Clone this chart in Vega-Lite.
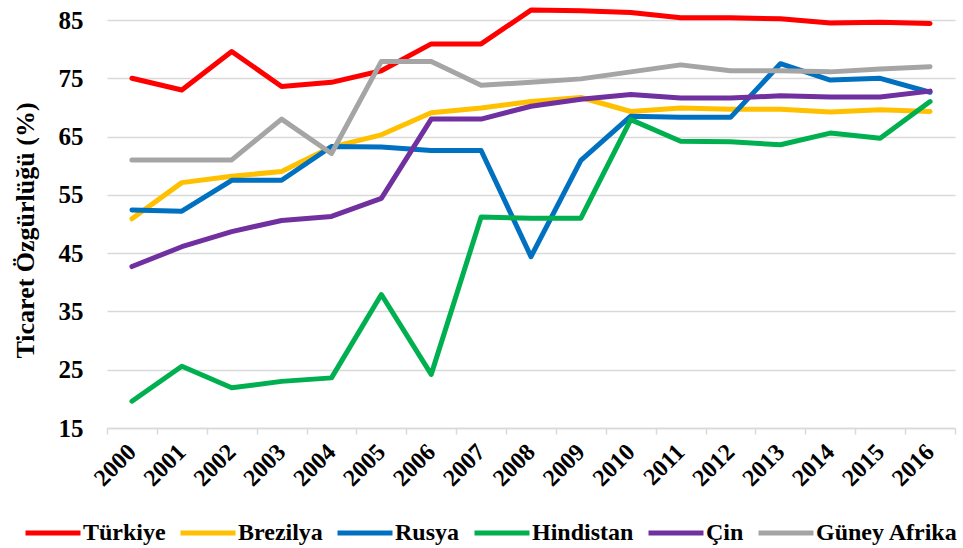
{
  "$schema": "https://vega.github.io/schema/vega-lite/v6.json",
  "width": 848,
  "height": 408,
  "autosize": {"type": "none"},
  "padding": {"left": 107, "top": 20, "right": 8, "bottom": 120},
  "background": "white",
  "config": {
    "view": {"stroke": null},
    "font": "Liberation Serif"
  },
  "data": {
    "values": [
      {"year": "2000", "country": "Türkiye", "value": 75.0},
      {"year": "2001", "country": "Türkiye", "value": 73.0},
      {"year": "2002", "country": "Türkiye", "value": 79.6},
      {"year": "2003", "country": "Türkiye", "value": 73.6},
      {"year": "2004", "country": "Türkiye", "value": 74.3},
      {"year": "2005", "country": "Türkiye", "value": 76.3},
      {"year": "2006", "country": "Türkiye", "value": 80.9},
      {"year": "2007", "country": "Türkiye", "value": 80.9},
      {"year": "2008", "country": "Türkiye", "value": 86.7},
      {"year": "2009", "country": "Türkiye", "value": 86.6},
      {"year": "2010", "country": "Türkiye", "value": 86.3},
      {"year": "2011", "country": "Türkiye", "value": 85.4},
      {"year": "2012", "country": "Türkiye", "value": 85.4},
      {"year": "2013", "country": "Türkiye", "value": 85.2},
      {"year": "2014", "country": "Türkiye", "value": 84.5},
      {"year": "2015", "country": "Türkiye", "value": 84.6},
      {"year": "2016", "country": "Türkiye", "value": 84.4},
      {"year": "2000", "country": "Brezilya", "value": 50.9},
      {"year": "2001", "country": "Brezilya", "value": 57.1},
      {"year": "2002", "country": "Brezilya", "value": 58.2},
      {"year": "2003", "country": "Brezilya", "value": 59.0},
      {"year": "2004", "country": "Brezilya", "value": 63.2},
      {"year": "2005", "country": "Brezilya", "value": 65.3},
      {"year": "2006", "country": "Brezilya", "value": 69.1},
      {"year": "2007", "country": "Brezilya", "value": 69.9},
      {"year": "2008", "country": "Brezilya", "value": 71.0},
      {"year": "2009", "country": "Brezilya", "value": 71.7},
      {"year": "2010", "country": "Brezilya", "value": 69.3},
      {"year": "2011", "country": "Brezilya", "value": 69.9},
      {"year": "2012", "country": "Brezilya", "value": 69.7},
      {"year": "2013", "country": "Brezilya", "value": 69.7},
      {"year": "2014", "country": "Brezilya", "value": 69.2},
      {"year": "2015", "country": "Brezilya", "value": 69.6},
      {"year": "2016", "country": "Brezilya", "value": 69.3},
      {"year": "2000", "country": "Rusya", "value": 52.4},
      {"year": "2001", "country": "Rusya", "value": 52.2},
      {"year": "2002", "country": "Rusya", "value": 57.5},
      {"year": "2003", "country": "Rusya", "value": 57.5},
      {"year": "2004", "country": "Rusya", "value": 63.3},
      {"year": "2005", "country": "Rusya", "value": 63.2},
      {"year": "2006", "country": "Rusya", "value": 62.6},
      {"year": "2007", "country": "Rusya", "value": 62.6},
      {"year": "2008", "country": "Rusya", "value": 44.4},
      {"year": "2009", "country": "Rusya", "value": 60.9},
      {"year": "2010", "country": "Rusya", "value": 68.5},
      {"year": "2011", "country": "Rusya", "value": 68.3},
      {"year": "2012", "country": "Rusya", "value": 68.3},
      {"year": "2013", "country": "Rusya", "value": 77.5},
      {"year": "2014", "country": "Rusya", "value": 74.7},
      {"year": "2015", "country": "Rusya", "value": 75.0},
      {"year": "2016", "country": "Rusya", "value": 72.6},
      {"year": "2000", "country": "Hindistan", "value": 19.6},
      {"year": "2001", "country": "Hindistan", "value": 25.6},
      {"year": "2002", "country": "Hindistan", "value": 21.9},
      {"year": "2003", "country": "Hindistan", "value": 23.0},
      {"year": "2004", "country": "Hindistan", "value": 23.6},
      {"year": "2005", "country": "Hindistan", "value": 37.9},
      {"year": "2006", "country": "Hindistan", "value": 24.2},
      {"year": "2007", "country": "Hindistan", "value": 51.2},
      {"year": "2008", "country": "Hindistan", "value": 51.0},
      {"year": "2009", "country": "Hindistan", "value": 51.0},
      {"year": "2010", "country": "Hindistan", "value": 67.9},
      {"year": "2011", "country": "Hindistan", "value": 64.2},
      {"year": "2012", "country": "Hindistan", "value": 64.1},
      {"year": "2013", "country": "Hindistan", "value": 63.6},
      {"year": "2014", "country": "Hindistan", "value": 65.6},
      {"year": "2015", "country": "Hindistan", "value": 64.7},
      {"year": "2016", "country": "Hindistan", "value": 71.0},
      {"year": "2000", "country": "Çin", "value": 42.7},
      {"year": "2001", "country": "Çin", "value": 46.1},
      {"year": "2002", "country": "Çin", "value": 48.7},
      {"year": "2003", "country": "Çin", "value": 50.6},
      {"year": "2004", "country": "Çin", "value": 51.3},
      {"year": "2005", "country": "Çin", "value": 54.4},
      {"year": "2006", "country": "Çin", "value": 68.0},
      {"year": "2007", "country": "Çin", "value": 68.0},
      {"year": "2008", "country": "Çin", "value": 70.2},
      {"year": "2009", "country": "Çin", "value": 71.4},
      {"year": "2010", "country": "Çin", "value": 72.2},
      {"year": "2011", "country": "Çin", "value": 71.6},
      {"year": "2012", "country": "Çin", "value": 71.6},
      {"year": "2013", "country": "Çin", "value": 72.0},
      {"year": "2014", "country": "Çin", "value": 71.8},
      {"year": "2015", "country": "Çin", "value": 71.8},
      {"year": "2016", "country": "Çin", "value": 72.8},
      {"year": "2000", "country": "Güney Afrika", "value": 61.0},
      {"year": "2001", "country": "Güney Afrika", "value": 61.0},
      {"year": "2002", "country": "Güney Afrika", "value": 61.0},
      {"year": "2003", "country": "Güney Afrika", "value": 68.0},
      {"year": "2004", "country": "Güney Afrika", "value": 62.1},
      {"year": "2005", "country": "Güney Afrika", "value": 77.9},
      {"year": "2006", "country": "Güney Afrika", "value": 77.9},
      {"year": "2007", "country": "Güney Afrika", "value": 73.8},
      {"year": "2008", "country": "Güney Afrika", "value": 74.3},
      {"year": "2009", "country": "Güney Afrika", "value": 74.9},
      {"year": "2010", "country": "Güney Afrika", "value": 76.1},
      {"year": "2011", "country": "Güney Afrika", "value": 77.3},
      {"year": "2012", "country": "Güney Afrika", "value": 76.3},
      {"year": "2013", "country": "Güney Afrika", "value": 76.3},
      {"year": "2014", "country": "Güney Afrika", "value": 76.1},
      {"year": "2015", "country": "Güney Afrika", "value": 76.6},
      {"year": "2016", "country": "Güney Afrika", "value": 77.0}
    ]
  },
  "mark": {"type": "line", "strokeWidth": 5, "strokeCap": "round", "strokeJoin": "round"},
  "encoding": {
    "x": {
      "field": "year",
      "type": "ordinal",
      "bandPosition": 0.5,
      "scale": {"type": "band", "paddingInner": 0, "paddingOuter": 0},
      "axis": {
        "title": null,
        "tickBand": "extent",
        "labelAngle": -45,
        "labelAlign": "right",
        "labelBaseline": "middle",
        "labelPadding": 14,
        "labelFont": "Liberation Serif",
        "labelFontWeight": "bold",
        "labelFontSize": 24,
        "labelColor": "black",
        "domainColor": "#D9D9D9",
        "domainWidth": 1.5,
        "tickColor": "#D9D9D9",
        "tickWidth": 1.5,
        "tickSize": 6,
        "grid": false
      }
    },
    "y": {
      "field": "value",
      "type": "quantitative",
      "scale": {"domain": [15, 85], "nice": false, "zero": false, "clamp": false},
      "axis": {
        "title": "Ticaret Özgürlüğü (%)",
        "titleFont": "Liberation Serif",
        "titleFontWeight": "bold",
        "titleFontSize": 26,
        "titleColor": "black",
        "titleAngle": -90,
        "titleX": -82,
        "titleY": 210,
        "titleAlign": "center",
        "titleBaseline": "middle",
        "values": [15, 25, 35, 45, 55, 65, 75, 85],
        "labelFont": "Liberation Serif",
        "labelFontWeight": "bold",
        "labelFontSize": 25,
        "labelColor": "black",
        "labelPadding": 24,
        "ticks": false,
        "domain": false,
        "grid": true,
        "gridColor": "#D9D9D9",
        "gridWidth": 1.5
      }
    },
    "color": {
      "field": "country",
      "type": "nominal",
      "sort": ["Türkiye", "Brezilya", "Rusya", "Hindistan", "Çin", "Güney Afrika"],
      "scale": {
        "domain": ["Türkiye", "Brezilya", "Rusya", "Hindistan", "Çin", "Güney Afrika"],
        "range": ["#FF0000", "#FFC000", "#0070C0", "#00B050", "#7030A0", "#A5A5A5"]
      },
      "legend": {
        "title": null,
        "orient": "none",
        "direction": "horizontal",
        "legendX": -84,
        "legendY": 483,
        "symbolType": "stroke",
        "symbolSize": 3025,
        "symbolStrokeWidth": 5,
        "labelFont": "Liberation Serif",
        "labelFontWeight": "bold",
        "labelFontSize": 24,
        "labelColor": "black",
        "labelOffset": 0,
        "columnPadding": 4,
        "labelLimit": 300
      }
    }
  }
}
